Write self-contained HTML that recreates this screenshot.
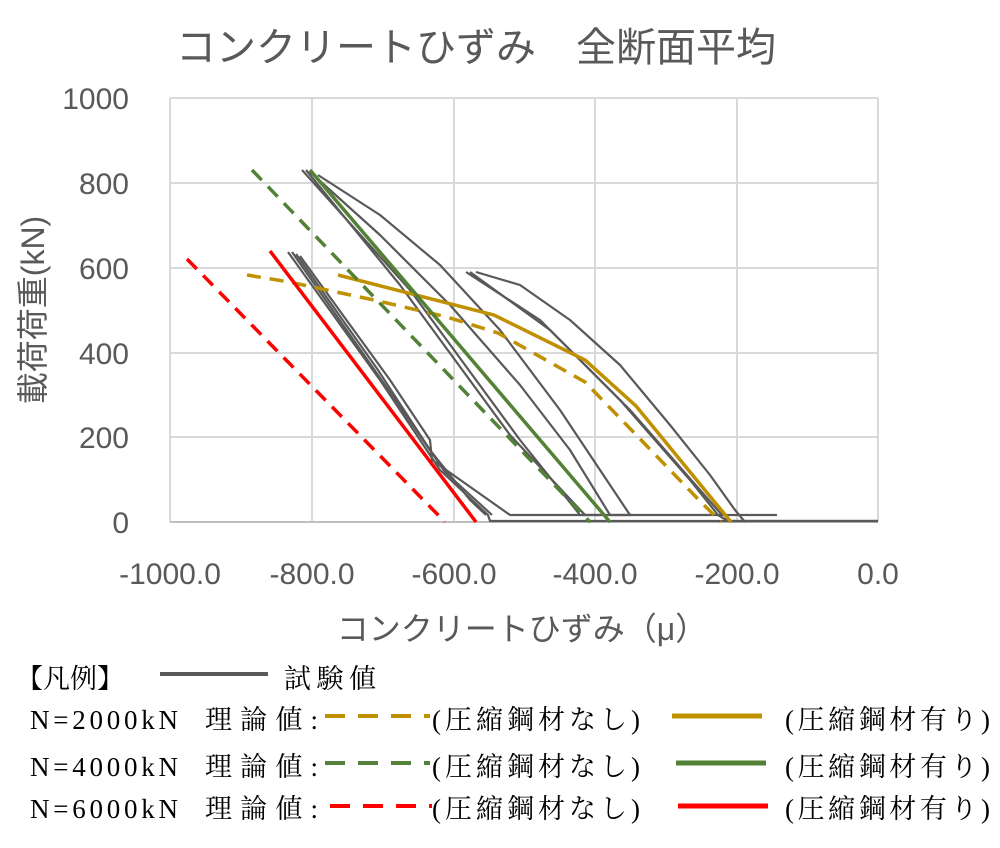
<!DOCTYPE html>
<html><head><meta charset="utf-8"><style>
body{margin:0;background:#fff}
svg{display:block}
.t{font-family:"Liberation Sans","Noto Sans CJK JP",sans-serif;fill:#595959}
.s{font-family:"Liberation Serif","Noto Serif CJK SC",serif;fill:#000;font-size:27px}
</style></head><body>
<svg width="1000" height="848" viewBox="0 0 1000 848" xmlns="http://www.w3.org/2000/svg">
<text class="t" x="476" y="61" font-size="40" text-anchor="middle">コンクリートひずみ　全断面平均</text>
<g stroke="#d9d9d9" stroke-width="2">
<line x1="170" y1="98" x2="878" y2="98"/><line x1="170" y1="183" x2="878" y2="183"/>
<line x1="170" y1="268" x2="878" y2="268"/><line x1="170" y1="353" x2="878" y2="353"/>
<line x1="170" y1="437" x2="878" y2="437"/>
<line x1="170" y1="98" x2="170" y2="522"/><line x1="312" y1="98" x2="312" y2="522"/>
<line x1="454" y1="98" x2="454" y2="522"/><line x1="595" y1="98" x2="595" y2="522"/>
<line x1="737" y1="98" x2="737" y2="522"/><line x1="878" y1="98" x2="878" y2="522"/>
</g>
<line x1="170" y1="522" x2="878" y2="522" stroke="#bfbfbf" stroke-width="2"/>
<g class="t" font-size="30" text-anchor="end">
<text x="129" y="109">1000</text><text x="129" y="194">800</text><text x="129" y="279">600</text>
<text x="129" y="364">400</text><text x="129" y="448">200</text><text x="129" y="533">0</text>
</g>
<g class="t" font-size="30" text-anchor="middle">
<text x="170" y="584">-1000.0</text><text x="312" y="584">-800.0</text><text x="454" y="584">-600.0</text>
<text x="595" y="584">-400.0</text><text x="737" y="584">-200.0</text><text x="878" y="584">0.0</text>
</g>
<text class="t" x="522" y="640" font-size="32" text-anchor="middle">コンクリートひずみ（μ）</text>
<text class="t" transform="translate(44,310) rotate(-90)" font-size="32" text-anchor="middle">載荷荷重(kN)</text>
<g fill="none" stroke="#595959" stroke-width="2.2" stroke-linejoin="round">
<polyline points="288,252 380,380 440,470 488,515 490,521 878,521"/>
<polyline points="292,252 385,385 445,472 492,515"/>
<polyline points="296,254 378,370 430,450 470,500 486,515"/>
<polyline points="300,256 390,380 430,440 432,460 510,515 630,515"/>
<polyline points="302,170 410,290 520,440 580,515 600,515"/>
<polyline points="306,170 400,285 510,435 585,515"/>
<polyline points="310,172 380,235 450,305 520,385 570,450 610,515 632,515"/>
<polyline points="318,175 380,215 440,265 500,330 560,410 600,470 630,515 777,515"/>
<polyline points="466,272 540,320 620,400 690,480 718,515 728,521"/>
<polyline points="470,272 550,330 630,410 700,490 722,515"/>
<polyline points="476,272 520,285 570,320 620,365 670,425 710,475 735,510 745,522"/>
<polyline points="728,521 878,521"/>
</g>
<g fill="none" stroke-width="3.5">
<polyline stroke="#bf9000" stroke-dasharray="14,9" points="247,275 289,282 374,300 447,317 498,333 585,382 644,443 696,497 721,522"/>
<polyline stroke="#bf9000" points="338,275 494,315 585,360 636,406 731,522"/>
<line stroke="#538135" stroke-dasharray="14,9" x1="252" y1="170" x2="590" y2="522"/>
<line stroke="#538135" x1="310" y1="170" x2="610" y2="522"/>
<line stroke="#ff0000" stroke-dasharray="14,9" x1="187" y1="259" x2="445" y2="522"/>
<line stroke="#ff0000" x1="270" y1="251" x2="476" y2="522"/>
</g>
<text class="s" x="16" y="688">【凡例】</text>
<line x1="160" y1="674" x2="268" y2="674" stroke="#595959" stroke-width="4"/>
<text class="s" x="284" y="688" textLength="92">試験値</text>
<text class="s" x="30" y="729" textLength="148">N=2000kN</text>
<text class="s" x="205" y="729" textLength="113">理論値:</text>
<line x1="325" y1="716" x2="430" y2="716" stroke="#bf9000" stroke-width="4" stroke-dasharray="20,13"/>
<text class="s" x="432" y="729" textLength="208">(圧縮鋼材なし)</text>
<line x1="672" y1="716" x2="762" y2="716" stroke="#bf9000" stroke-width="5"/>
<text class="s" x="785" y="729" textLength="205">(圧縮鋼材有り)</text>
<text class="s" x="30" y="776" textLength="148">N=4000kN</text>
<text class="s" x="205" y="776" textLength="113">理論値:</text>
<line x1="325" y1="763" x2="430" y2="763" stroke="#538135" stroke-width="4" stroke-dasharray="20,13"/>
<text class="s" x="432" y="776" textLength="208">(圧縮鋼材なし)</text>
<line x1="676" y1="763" x2="766" y2="763" stroke="#538135" stroke-width="5"/>
<text class="s" x="785" y="776" textLength="205">(圧縮鋼材有り)</text>
<text class="s" x="30" y="818" textLength="148">N=6000kN</text>
<text class="s" x="205" y="818" textLength="113">理論値:</text>
<line x1="330" y1="806" x2="432" y2="806" stroke="#ff0000" stroke-width="4" stroke-dasharray="20,13"/>
<text class="s" x="432" y="818" textLength="208">(圧縮鋼材なし)</text>
<line x1="678" y1="806" x2="768" y2="806" stroke="#ff0000" stroke-width="5"/>
<text class="s" x="785" y="818" textLength="205">(圧縮鋼材有り)</text>
</svg>
</body></html>
